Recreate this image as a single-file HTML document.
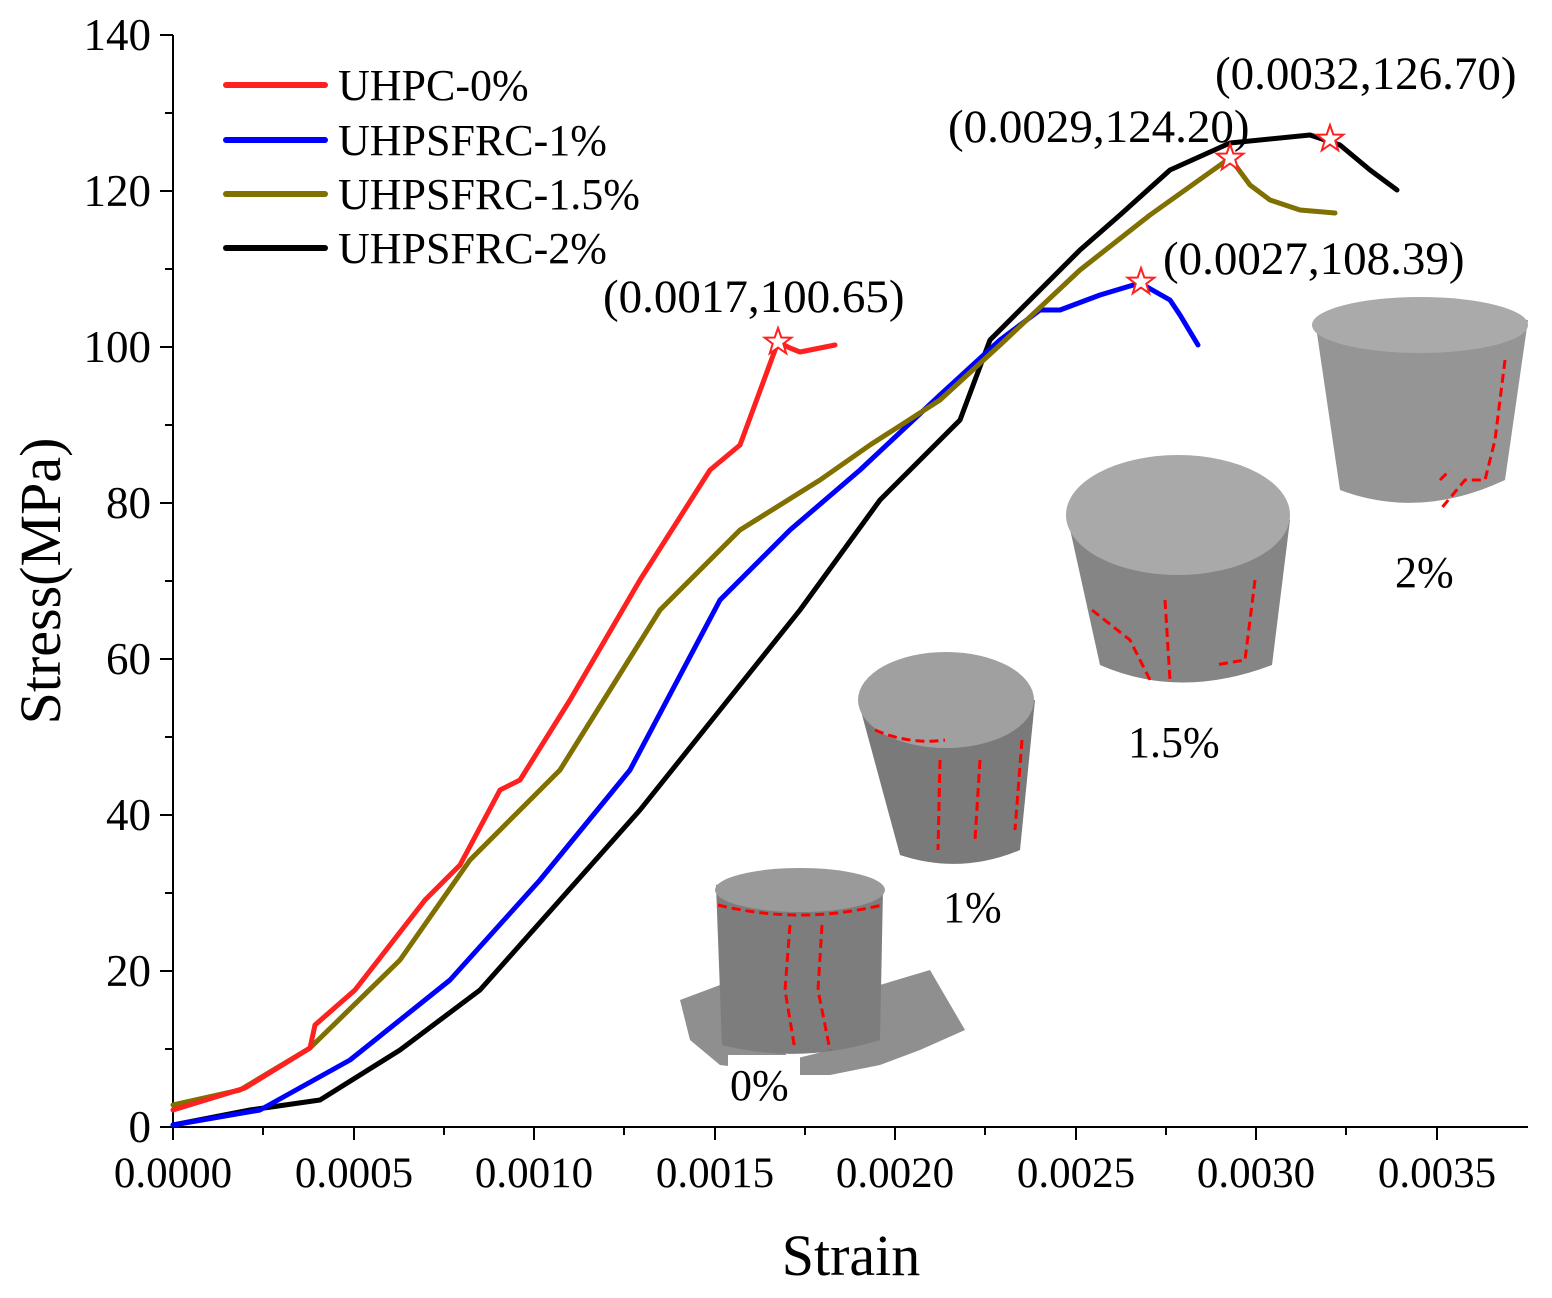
<!DOCTYPE html>
<html><head><meta charset="utf-8"><style>
html,body{margin:0;padding:0;background:#fff}
svg text{font-family:"Liberation Serif",serif;fill:#000}
</style></head><body>
<svg width="1552" height="1293" viewBox="0 0 1552 1293" xmlns="http://www.w3.org/2000/svg">
<!-- photos -->
<g>
 <path d="M680,1000 L720,985 L740,990 L790,1060 L830,1050 L880,985 L930,970 L965,1030 L920,1050 L880,1065 L830,1075 L800,1075 L760,1070 L720,1065 L690,1040 Z" fill="#8f8f8f"/>
 <path d="M716,885 Q800,860 883,890 L880,1040 Q800,1065 722,1045 Z" fill="#7d7d7d"/>
 <ellipse cx="800" cy="890" rx="85" ry="22" fill="#9a9a9a"/>
 <path d="M718,905 Q800,925 882,905" fill="none" stroke="#f00" stroke-width="3" stroke-dasharray="9,5"/>
 <path d="M790,925 L785,990 L795,1050 M822,925 L818,990 L830,1050" fill="none" stroke="#f00" stroke-width="3" stroke-dasharray="9,5"/>
 <path d="M858,700 L1035,700 L1020,850 Q960,875 900,855 Z" fill="#7a7a7a"/>
 <ellipse cx="946" cy="700" rx="88" ry="48" fill="#a0a0a0"/>
 <path d="M875,730 Q910,745 945,740 M940,760 L938,850 M980,760 L975,840 M1022,740 L1015,830" fill="none" stroke="#f00" stroke-width="3" stroke-dasharray="9,5"/>
 <path d="M1068,520 L1290,520 L1272,665 Q1180,700 1100,665 Z" fill="#858585"/>
 <ellipse cx="1178" cy="515" rx="112" ry="60" fill="#a9a9a9"/>
 <path d="M1092,610 L1130,640 L1150,680 M1165,600 L1170,680 M1255,580 L1245,660 L1215,665" fill="none" stroke="#f00" stroke-width="3" stroke-dasharray="9,5"/>
 <path d="M1315,320 L1528,320 L1505,480 Q1420,520 1340,490 Z" fill="#959595"/>
 <ellipse cx="1420" cy="325" rx="108" ry="28" fill="#aaaaaa"/>
 <path d="M1505,360 L1495,440 L1485,480 L1465,480 L1440,510 M1440,480 L1450,470" fill="none" stroke="#f00" stroke-width="3" stroke-dasharray="9,5"/>
 <text x="1395" y="587" font-size="44">2%</text>
 <text x="1128" y="757" font-size="44">1.5%</text>
 <text x="943" y="922" font-size="44">1%</text>
 <rect x="728" y="1055" width="72" height="50" fill="#fff"/>
 <text x="730" y="1100" font-size="44">0%</text>
</g>
<g stroke="#000" stroke-width="2" fill="none">
 <line x1="173" y1="35" x2="173" y2="1128"/>
 <line x1="172" y1="1127" x2="1528" y2="1127"/>
</g>
<g stroke="#000" stroke-width="2">
 <line x1="173" y1="35" x2="160" y2="35"/><line x1="173" y1="191" x2="160" y2="191"/><line x1="173" y1="347" x2="160" y2="347"/><line x1="173" y1="503" x2="160" y2="503"/><line x1="173" y1="659" x2="160" y2="659"/><line x1="173" y1="815" x2="160" y2="815"/><line x1="173" y1="971" x2="160" y2="971"/><line x1="173" y1="1127" x2="160" y2="1127"/>
 <line x1="173" y1="113" x2="165" y2="113"/><line x1="173" y1="269" x2="165" y2="269"/><line x1="173" y1="425" x2="165" y2="425"/><line x1="173" y1="581" x2="165" y2="581"/><line x1="173" y1="737" x2="165" y2="737"/><line x1="173" y1="893" x2="165" y2="893"/><line x1="173" y1="1049" x2="165" y2="1049"/>
 <line x1="173" y1="1127" x2="173" y2="1140"/><line x1="354" y1="1127" x2="354" y2="1140"/><line x1="534" y1="1127" x2="534" y2="1140"/><line x1="715" y1="1127" x2="715" y2="1140"/><line x1="895" y1="1127" x2="895" y2="1140"/><line x1="1076" y1="1127" x2="1076" y2="1140"/><line x1="1256" y1="1127" x2="1256" y2="1140"/><line x1="1437" y1="1127" x2="1437" y2="1140"/>
 <line x1="263" y1="1127" x2="263" y2="1135"/><line x1="444" y1="1127" x2="444" y2="1135"/><line x1="624" y1="1127" x2="624" y2="1135"/><line x1="805" y1="1127" x2="805" y2="1135"/><line x1="985" y1="1127" x2="985" y2="1135"/><line x1="1166" y1="1127" x2="1166" y2="1135"/><line x1="1346" y1="1127" x2="1346" y2="1135"/>
</g>
<g font-size="45" text-anchor="end">
 <text x="151" y="50">140</text><text x="151" y="206">120</text><text x="151" y="362">100</text><text x="151" y="518">80</text><text x="151" y="674">60</text><text x="151" y="830">40</text><text x="151" y="986">20</text><text x="151" y="1142">0</text>
</g>
<g font-size="43" text-anchor="middle">
 <text x="173" y="1187">0.0000</text><text x="354" y="1187">0.0005</text><text x="534" y="1187">0.0010</text><text x="715" y="1187">0.0015</text><text x="895" y="1187">0.0020</text><text x="1076" y="1187">0.0025</text><text x="1256" y="1187">0.0030</text><text x="1437" y="1187">0.0035</text>
</g>
<text x="851" y="1275" font-size="58" text-anchor="middle">Strain</text>
<text transform="translate(60,581) rotate(-90)" font-size="58" text-anchor="middle">Stress(MPa)</text>
<g fill="none" stroke-width="5" stroke-linejoin="round" stroke-linecap="round">
 <polyline stroke="#000" points="173,1125 250,1110 320,1100 400,1050 480,990 560,900 640,810 720,710 800,610 880,500 960,420 990,340 1040,290 1080,250 1120,215 1170,170 1230,143 1310,135 1340,145 1370,170 1397,190"/>
 <polyline stroke="#0000ff" points="173,1125 260,1110 350,1060 450,980 540,880 630,770 720,600 790,530 860,470 940,395 1000,340 1040,310 1060,310 1100,295 1140,283 1170,300 1180,315 1198,345"/>
 <polyline stroke="#7f7000" points="173,1105 240,1090 310,1048 400,960 470,860 560,770 660,610 740,530 820,480 870,445 940,400 1000,345 1080,270 1150,215 1230,158 1250,185 1270,200 1300,210 1335,213"/>
 <polyline stroke="#ff2020" points="173,1110 245,1088 310,1048 315,1025 355,990 425,900 460,865 500,790 520,780 570,700 640,580 710,470 740,445 778,342 790,348 800,352 815,349 835,345"/>
</g>
<g fill="#fff" stroke="#ff2020" stroke-width="2">
 <polygon transform="translate(778,342)" points="0,-14 3.3,-4.5 13.3,-4.3 5.3,1.7 8.2,11.3 0,5.6 -8.2,11.3 -5.3,1.7 -13.3,-4.3 -3.3,-4.5"/>
 <polygon transform="translate(1141,282)" points="0,-14 3.3,-4.5 13.3,-4.3 5.3,1.7 8.2,11.3 0,5.6 -8.2,11.3 -5.3,1.7 -13.3,-4.3 -3.3,-4.5"/>
 <polygon transform="translate(1230,158)" points="0,-14 3.3,-4.5 13.3,-4.3 5.3,1.7 8.2,11.3 0,5.6 -8.2,11.3 -5.3,1.7 -13.3,-4.3 -3.3,-4.5"/>
 <polygon transform="translate(1330,139)" points="0,-14 3.3,-4.5 13.3,-4.3 5.3,1.7 8.2,11.3 0,5.6 -8.2,11.3 -5.3,1.7 -13.3,-4.3 -3.3,-4.5"/>
</g>
<g font-size="47">
 <text x="603" y="312">(0.0017,100.65)</text>
 <text x="1163" y="274">(0.0027,108.39)</text>
 <text x="948" y="142">(0.0029,124.20)</text>
 <text x="1215" y="89">(0.0032,126.70)</text>
</g>
<g stroke-width="6" stroke-linecap="round">
 <line x1="226" y1="85" x2="325" y2="85" stroke="#ff2020"/>
 <line x1="226" y1="140" x2="325" y2="140" stroke="#0000ff"/>
 <line x1="226" y1="194" x2="325" y2="194" stroke="#7f7000"/>
 <line x1="226" y1="248" x2="325" y2="248" stroke="#000"/>
</g>
<g font-size="44">
 <text x="338" y="100">UHPC-0%</text>
 <text x="338" y="155">UHPSFRC-1%</text>
 <text x="338" y="209">UHPSFRC-1.5%</text>
 <text x="338" y="263">UHPSFRC-2%</text>
</g>
</svg>
</body></html>
